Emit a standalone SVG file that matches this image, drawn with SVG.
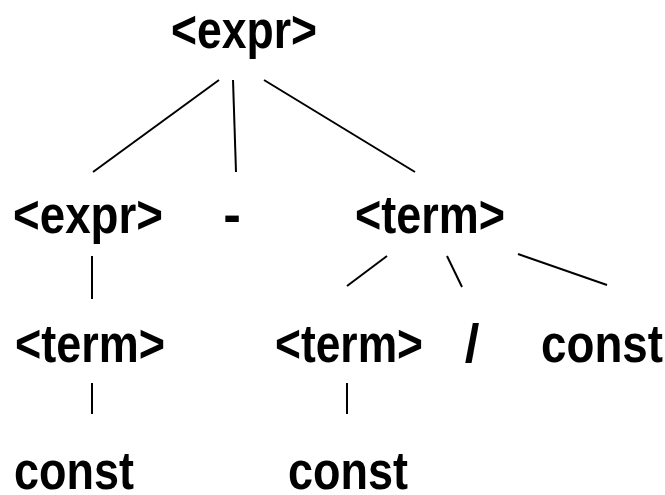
<svg xmlns="http://www.w3.org/2000/svg" width="665" height="495" viewBox="0 0 665 495">
<style>
text{font-family:"Liberation Sans",Arial,sans-serif;font-weight:bold;font-size:53px;fill:#000}
.c line{stroke:#000;stroke-width:2;stroke-linecap:butt}
</style>
<rect width="665" height="495" fill="#fff"/>
<g id="n-expr-root"><text x="171" y="48" textLength="146" lengthAdjust="spacingAndGlyphs">&lt;expr&gt;</text></g>
<g id="n-expr-left"><text x="13" y="233" textLength="150" lengthAdjust="spacingAndGlyphs">&lt;expr&gt;</text></g>
<g id="n-minus"><text x="232" y="233" text-anchor="middle">-</text></g>
<g id="n-term-right"><text x="355" y="233" textLength="150" lengthAdjust="spacingAndGlyphs">&lt;term&gt;</text></g>
<g id="n-term-l3"><text x="15" y="362" textLength="150" lengthAdjust="spacingAndGlyphs">&lt;term&gt;</text></g>
<g id="n-term-m3"><text x="275" y="362" textLength="148" lengthAdjust="spacingAndGlyphs">&lt;term&gt;</text></g>
<g id="n-slash"><text x="472" y="362" text-anchor="middle">/</text></g>
<g id="n-const-r3"><text x="541" y="362" textLength="122" lengthAdjust="spacingAndGlyphs">const</text></g>
<g id="n-const-l4"><text x="14" y="489" textLength="120" lengthAdjust="spacingAndGlyphs">const</text></g>
<g id="n-const-m4"><text x="288" y="489" textLength="120" lengthAdjust="spacingAndGlyphs">const</text></g>
<g id="connectors" class="c">
<line x1="219" y1="80" x2="93" y2="172"/>
<line x1="233" y1="80" x2="236" y2="172"/>
<line x1="264" y1="80" x2="415" y2="172"/>
<line x1="92" y1="256" x2="92" y2="299"/>
<line x1="387" y1="256" x2="347" y2="286"/>
<line x1="447" y1="256" x2="462" y2="287"/>
<line x1="518" y1="254" x2="607" y2="285"/>
<line x1="92" y1="383" x2="92" y2="414"/>
<line x1="347" y1="383" x2="347" y2="414"/>
</g>
</svg>
